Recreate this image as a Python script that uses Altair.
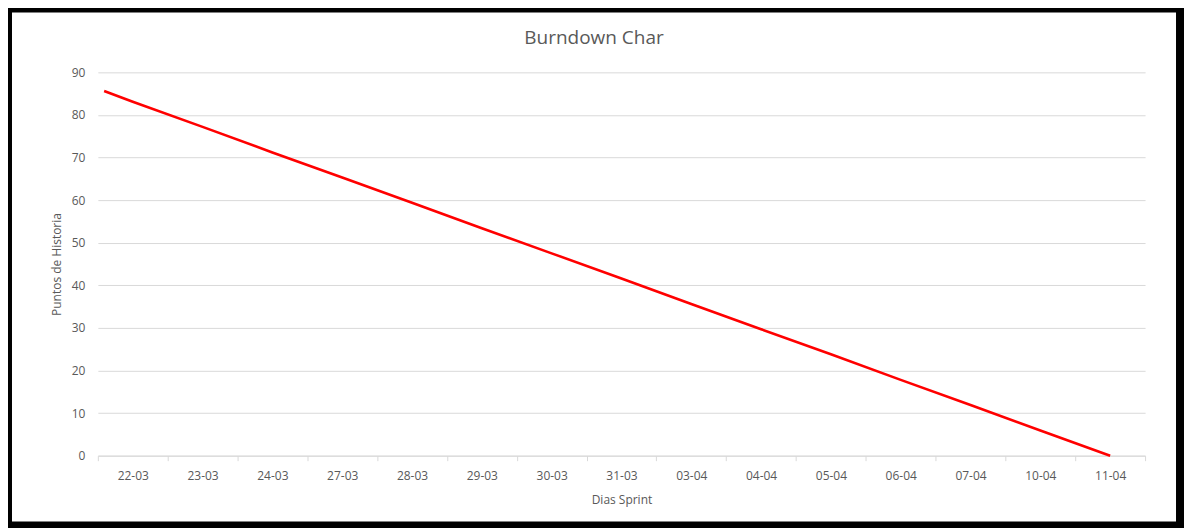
import altair as alt
import pandas as pd

# ---- data ----
days = ['22-03', '23-03', '24-03', '27-03', '28-03', '29-03', '30-03', '31-03',
        '03-04', '04-04', '05-04', '06-04', '07-04', '10-04', '11-04']
remaining = [83.1, 77.2, 71.2, 65.3, 59.4, 53.4, 47.5, 41.6,
             35.6, 29.7, 23.8, 17.8, 11.9, 5.9, 0.0]
# the drawn line begins slightly left of the first day's centre
line_start_pos = -0.41
line_start_value = 85.6

chart_title = "Burndown Char"
y_title = "Puntos de Historia"
x_title = "Dias Sprint"

y_ticks = [0, 10, 20, 30, 40, 50, 60, 70, 80, 90]
x_bounds = [i - 0.5 for i in range(len(days) + 1)]

pos = [line_start_pos] + list(range(len(days)))
vals = [line_start_value] + remaining
line_df = pd.DataFrame({"pos": pos, "value": vals})

W, H = 1049, 384
FONT = "Open Sans"
GREY = "#595959"

labels_js = "[" + ",".join("'%s'" % d for d in days) + "]"

x_enc = alt.X(
    "pos:Q",
    scale=alt.Scale(domain=[-0.5, len(days) - 0.5], nice=False, zero=False),
    axis=alt.Axis(
        title=x_title,
        values=x_bounds,
        labelExpr=f"datum.value < {len(days) - 1} ? {labels_js}[round(datum.value + 0.5)] : ''",
        labelOffset=W / len(days) / 2,
        labelOverlap=False,
        labelFlush=False,
        labelBound=False,
        labelFont=FONT,
        labelFontSize=12,
        labelColor=GREY,
        labelPadding=10,
        tickSize=5,
        tickColor="#d9d9d9",
        domainColor="#d9d9d9",
        domainWidth=1,
        grid=False,
        titleFont=FONT,
        titleFontSize=12,
        titleFontWeight="normal",
        titleColor=GREY,
        titlePadding=13,
    ),
)

y_enc = alt.Y(
    "value:Q",
    scale=alt.Scale(domain=[0, 90], nice=False),
    axis=alt.Axis(
        title=y_title,
        values=y_ticks,
        grid=True,
        gridColor="#d9d9d9",
        domain=False,
        ticks=False,
        labelFont=FONT,
        labelFontSize=12,
        labelColor=GREY,
        labelPadding=13,
        titleFont=FONT,
        titleFontSize=12,
        titleFontWeight="normal",
        titleColor=GREY,
        titlePadding=8,
    ),
)

one = pd.DataFrame({"k": [0]})

# black screenshot frame around the chart
frame = alt.Chart(one).mark_rect(
    fill=None, stroke="black", strokeWidth=8, clip=False
).encode(x=alt.value(-90), x2=alt.value(1084), y=alt.value(-64), y2=alt.value(454))

title = alt.Chart(one).mark_text(
    text=chart_title, font=FONT, fontSize=19, color=GREY,
    align="center", baseline="middle", clip=False
).encode(x=alt.value(497), y=alt.value(-34))

line = alt.Chart(line_df).mark_line(color="#ff0000", strokeWidth=2.6).encode(
    x=x_enc, y=y_enc
)

chart = alt.layer(line, title, frame).properties(
    width=W,
    height=H,
    autosize=alt.AutoSizeParams(type="none"),
    padding={"left": 90, "top": 64, "right": 39, "bottom": 72},
    background="white",
).configure_view(strokeWidth=0)

chart.save("out.html", embed_options={"renderer": "svg", "actions": False})
